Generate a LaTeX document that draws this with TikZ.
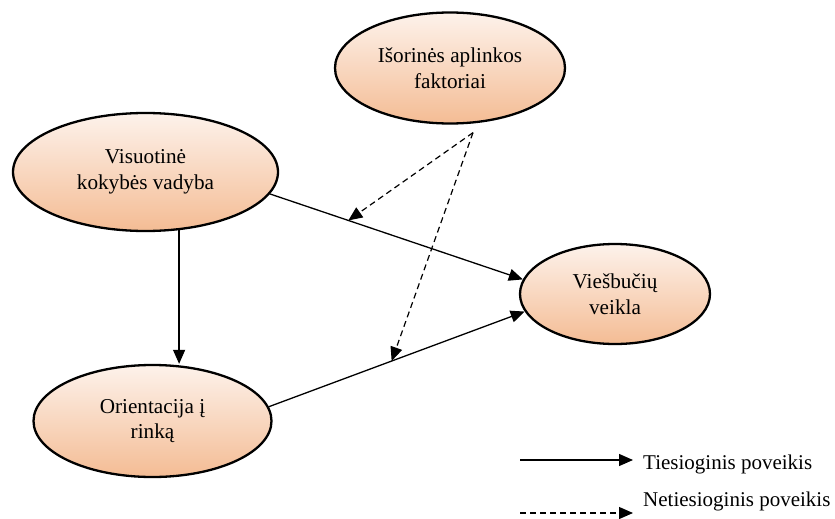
\documentclass[tikz,border=0pt]{standalone}
\usepackage{fontspec}
\setmainfont{Liberation Serif}
\usetikzlibrary{arrows.meta,shapes.geometric,calc}

\definecolor{peachtop}{RGB}{253,242,235}
\definecolor{peachbot}{RGB}{244,188,148}

\tikzset{
  factor/.style={ellipse, draw=black, line width=2.3pt,
    top color=peachtop, bottom color=peachbot,
    align=center, inner sep=0pt,
    font=\fontsize{21.2}{25.5}\selectfont},
  direct/.style={line width=1.3pt, -{Triangle[length=14pt,width=12pt]}},
  indirect/.style={line width=1.2pt, dash pattern=on 6pt off 4pt,
    -{Triangle[length=14pt,width=12pt]}},
  legendtext/.style={anchor=base west, inner sep=0pt,
    font=\fontsize{21}{25}\selectfont}
}

\begin{document}
\begin{tikzpicture}[x=1pt,y=-1pt]
  \useasboundingbox (0,0) rectangle (835,519);

  % model constructs
  \node[factor, minimum width=230pt, minimum height=111pt] (env) at (450,68)
    {Išorinės aplinkos\\faktoriai};
  \node[factor, minimum width=265pt, minimum height=118pt] (tqm) at (145.5,172)
    {Visuotinė\\kokybės vadyba};
  \node[factor, minimum width=190pt, minimum height=100pt] (hotel) at (615,294)
    {Viešbučių\\veikla};
  \node[factor, minimum width=238pt, minimum height=112pt] (mo) at (152.5,421)
    {Orientacija į\\rinką};

  % direct effects
  \draw[direct] (tqm.-60) -- (tqm.-60 |- mo.north);
  \draw[direct] (tqm.-10) -- (hotel.171)
    coordinate[pos=0.31] (hitA);
  \draw[direct] (mo.7) -- (hotel.191)
    coordinate[pos=0.48] (hitB);

  % moderating (indirect) effects of the environment
  \coordinate (fork) at ($(env.south)+(23,8)$);
  \draw[indirect] (fork) -- (hitA);
  \draw[indirect] (fork) -- (hitB);

  % legend
  \coordinate (ls1) at (520,460);
  \coordinate (le1) at (633,460);
  \coordinate (ls2) at (520,513);
  \coordinate (le2) at (633,513);
  \draw[direct] (ls1) -- (le1);
  \draw[indirect] (ls2) -- (le2);
  \node[legendtext] (lt1) at (643,469.5) {Tiesioginis poveikis};
  \node[legendtext] (lt2) at (643,506.5) {Netiesioginis poveikis};
\end{tikzpicture}
\end{document}
